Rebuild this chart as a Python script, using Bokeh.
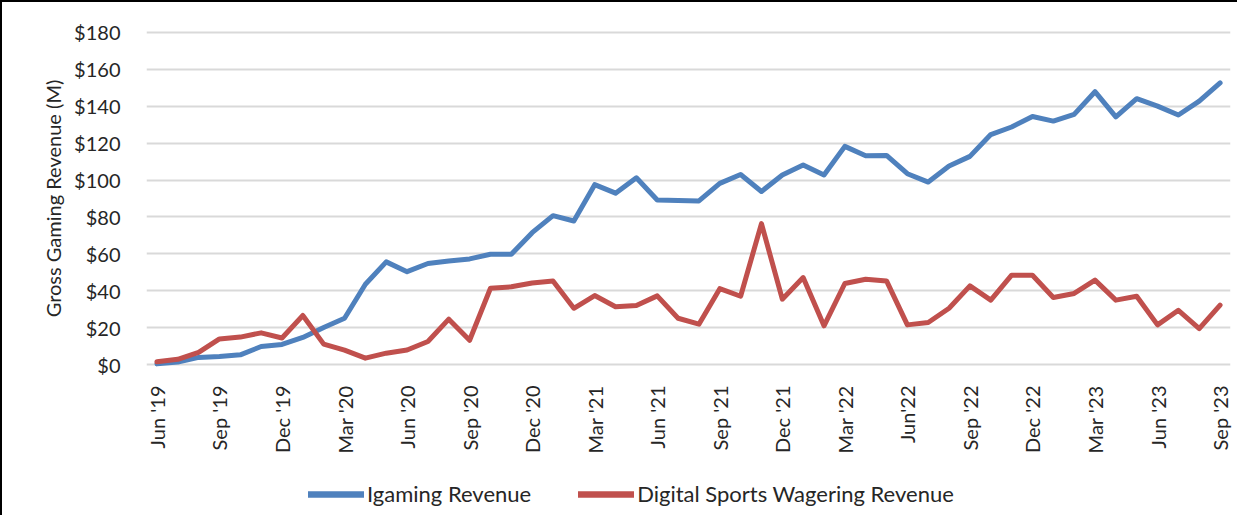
import math
from bokeh.plotting import figure
from bokeh.layouts import column
from bokeh.models import Range1d, FixedTicker, Legend, LegendItem, NumeralTickFormatter
from bokeh.embed import file_html
from bokeh.resources import INLINE

# Monthly data Jun 2019 .. Sep 2023 (52 months), $M
igaming = [0.5, 1.5, 4.0, 4.5, 5.4, 9.9, 11.0, 14.8, 20.2, 25.2, 43.6, 55.7,
           50.4, 54.8, 56.2, 57.3, 59.8, 59.8, 71.5, 80.7, 77.8, 97.5, 92.9, 101.2,
           89.2, 88.9, 88.7, 98.2, 103.0, 93.8, 102.7, 108.1, 102.7, 118.2, 113.1, 113.3,
           103.4, 98.9, 107.6, 112.8, 124.6, 128.7, 134.4, 131.9, 135.5, 147.8, 134.2, 144.0,
           140.0, 135.2, 142.7, 152.6]
sports = [1.6, 3.0, 6.7, 14.0, 15.0, 17.3, 14.5, 26.7, 11.2, 7.9, 3.6, 6.3,
          8.0, 12.6, 24.7, 13.3, 41.4, 42.2, 44.3, 45.4, 30.6, 37.5, 31.4, 32.1,
          37.3, 25.2, 22.0, 41.2, 37.1, 76.4, 35.5, 47.2, 21.1, 44.0, 46.3, 45.4,
          21.6, 22.9, 30.6, 42.7, 35.0, 48.5, 48.5, 36.4, 38.6, 45.8, 35.0, 37.1,
          21.6, 29.5, 19.6, 32.3]
tick_labels = ["Jun '19", "Sep '19", "Dec '19", "Mar '20", "Jun '20", "Sep '20",
               "Dec '20", "Mar '21", "Jun '21", "Sep '21", "Dec '21", "Mar '22",
               "Jun'22", "Sep '22", "Dec '22", "Mar '23", "Jun '23", "Sep '23"]
series_names = ["Igaming Revenue", "Digital Sports Wagering Revenue"]
y_ticks = [0, 20, 40, 60, 80, 100, 120, 140, 160, 180]

x = list(range(len(igaming)))
tick_pos = list(range(0, len(igaming), 3))

FONT = "Lato"
TXT = "#262626"
BLUE = "#4F81BD"
RED = "#C0504D"
W = 1237

p = figure(width=W, height=470, output_backend="svg", toolbar_location=None,
           x_range=Range1d(-0.5, 51.5), y_range=Range1d(-2, 182),
           min_border_left=144, min_border_right=9, min_border_top=26,
           min_border_bottom=104, outline_line_color=None,
           styles={"border-left": "2px solid #000000", "border-top": "2px solid #000000",
                   "box-sizing": "border-box"})

p.line(x, igaming, line_color=BLUE, line_width=5, line_join="round", line_cap="round")
p.line(x, sports, line_color=RED, line_width=5, line_join="round", line_cap="round")

# axes
p.xaxis.ticker = FixedTicker(ticks=tick_pos)
p.xaxis.major_label_overrides = {t: lab for t, lab in zip(tick_pos, tick_labels)}
p.xaxis.major_label_orientation = math.pi / 2
p.xaxis.axis_line_color = None
p.xaxis.major_tick_line_color = None
p.xaxis.minor_tick_line_color = None
p.xaxis.major_label_standoff = 11
p.xaxis.major_label_text_font = FONT
p.xaxis.major_label_text_font_size = "20px"
p.xaxis.major_label_text_color = TXT

p.yaxis.ticker = FixedTicker(ticks=y_ticks)
p.yaxis.formatter = NumeralTickFormatter(format="$0")
p.yaxis.axis_line_color = None
p.yaxis.major_tick_line_color = None
p.yaxis.minor_tick_line_color = None
p.yaxis.major_label_standoff = 20
p.yaxis.major_label_text_font = FONT
p.yaxis.major_label_text_font_size = "20px"
p.yaxis.major_label_text_color = TXT
p.yaxis.axis_label = "Gross Gaming Revenue (M)"
p.yaxis.axis_label_text_font = FONT
p.yaxis.axis_label_text_font_size = "20px"
p.yaxis.axis_label_text_font_style = "normal"
p.yaxis.axis_label_text_color = TXT
p.yaxis.axis_label_standoff = 6

p.xgrid.grid_line_color = None
p.ygrid.grid_line_color = "#D9D9D9"
p.ygrid.grid_line_width = 2

# legend strip below the chart (its frame is aligned with the main frame)
lg = figure(width=W, height=45, output_backend="svg", toolbar_location=None,
            x_range=Range1d(-20, -19), y_range=Range1d(-20, -19), min_border=0,
            outline_line_color=None,
            styles={"border-left": "2px solid #000000", "box-sizing": "border-box"})
lg.axis.visible = False
lg.grid.visible = False
k1 = lg.line(x, igaming, line_color=BLUE, line_width=6.5, line_cap="round")
k2 = lg.line(x, sports, line_color=RED, line_width=6.5, line_cap="round")
legend = Legend(items=[LegendItem(label=series_names[0], renderers=[k1]),
                       LegendItem(label=series_names[1], renderers=[k2])],
                orientation="horizontal", location=(162, 8),
                glyph_width=56, glyph_height=26, label_standoff=3, spacing=47,
                padding=0, margin=0, border_line_color=None,
                background_fill_alpha=0,
                label_text_font=FONT, label_text_font_size="22px",
                label_text_color=TXT)
lg.add_layout(legend, "center")

open("out.html", "w").write(file_html(column(p, lg, spacing=0), INLINE))
